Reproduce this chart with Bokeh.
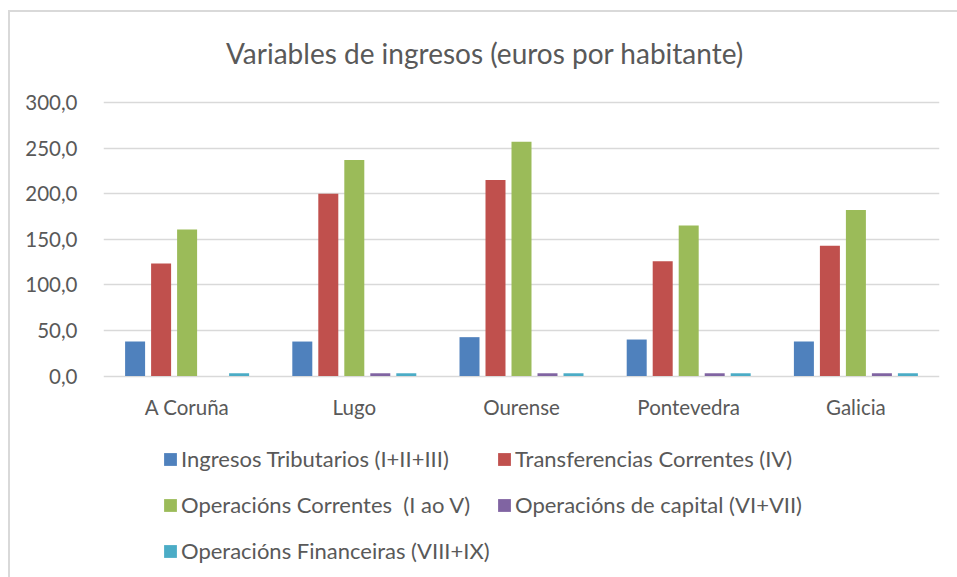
from bokeh.plotting import figure
from bokeh.models import (FactorRange, ColumnDataSource, FixedTicker, CustomJSTickFormatter,
                          Legend, LegendItem)
from bokeh.core.properties import value
from bokeh.transform import dodge
from bokeh.embed import file_html
from bokeh.resources import INLINE

categories = ["A Coruña", "Lugo", "Ourense", "Pontevedra", "Galicia"]
series_names = ["Ingresos Tributarios (I+II+III)", "Transferencias Correntes (IV)",
                "Operacións Correntes  (I ao V)", "Operacións de capital (VI+VII)",
                "Operacións Financeiras (VIII+IX)"]
tributarios = [37.8, 37.8, 42.6, 40.0, 37.8]
transferencias = [123.4, 200.0, 215.0, 126.0, 143.0]
correntes = [160.7, 237.0, 257.0, 165.0, 182.0]
capital = [0.0, 3.0, 3.0, 3.0, 3.0]
financeiras = [3.0, 3.0, 3.0, 3.0, 3.0]
y_ticks = [0, 50, 100, 150, 200, 250, 300]
title_text = "Variables de ingresos  (euros por habitante)"

colors = ["#4F81BD", "#C0504D", "#9BBB59", "#8064A2", "#4BACC6"]
TXT = "#595959"
FONT = "Lato"
FS = "20.5px"
LFS = "22px"

src = ColumnDataSource(dict(cat=categories, s0=tributarios, s1=transferencias,
                            s2=correntes, s3=capital, s4=financeiras))

# frame spans the whole chart area; value axis 0..300 occupies its middle band
k = 300 / 273.5
p = figure(x_range=FactorRange(*categories), y_range=(-201.5 * k, 300 + 90 * k),
           width=957, height=577, output_backend="svg", toolbar_location=None,
           min_border_left=103, min_border_right=18, min_border_top=12, min_border_bottom=0)
p.styles = {
    "background": "linear-gradient(#d9d9d9,#d9d9d9) 8px 10px / 2px 100% no-repeat, "
                  "linear-gradient(#d9d9d9,#d9d9d9) 8px 10px / 100% 2px no-repeat, white"
}
p.outline_line_color = None
p.background_fill_color = None
p.background_fill_alpha = 0
p.border_fill_color = None
p.border_fill_alpha = 0

step = 0.1555
bw = 0.1196
renderers = []
for i, key in enumerate(["s0", "s1", "s2", "s3", "s4"]):
    r = p.vbar(x=dodge("cat", (i - 2) * step, range=p.x_range), top=key, width=bw,
               source=src, fill_color=colors[i], line_color=None)
    renderers.append(r)

# category labels
p.text(x=categories, y=-34.2, text=categories, text_align="center",
       text_baseline="alphabetic", text_font=value(FONT), text_font_size=value(FS),
       text_color=TXT)

# chart title
p.text(x=[categories[2]], y=[300 + (102 - 52.3) * k], text=[title_text], x_offset=-33,
       text_align="center", text_baseline="alphabetic", text_font=value(FONT),
       text_font_size=value("28px"), text_color=TXT)

p.xaxis.visible = False
p.xgrid.grid_line_color = None
p.ygrid.ticker = FixedTicker(ticks=y_ticks)
p.ygrid.grid_line_color = "#d9d9d9"
p.ygrid.grid_line_width = 1.3
p.yaxis.ticker = FixedTicker(ticks=y_ticks)
p.yaxis.formatter = CustomJSTickFormatter(code="return tick.toFixed(1).replace('.', ',');")
p.yaxis.axis_line_color = None
p.yaxis.major_tick_line_color = None
p.yaxis.minor_tick_line_color = None
p.yaxis.major_label_standoff = 20
p.yaxis.major_label_text_font = FONT
p.yaxis.major_label_text_font_size = FS
p.yaxis.major_label_text_color = TXT

common = dict(orientation="vertical", glyph_width=16, glyph_height=16, label_standoff=3,
              label_height=26, spacing=19, padding=0, margin=0,
              border_line_color=None, background_fill_alpha=0,
              label_text_font=FONT, label_text_font_size=LFS, label_text_color=TXT)
leg1 = Legend(items=[LegendItem(label=series_names[i], renderers=[renderers[i]]) for i in (0, 2, 4)],
              location=(59, 13), **common)
leg2 = Legend(items=[LegendItem(label=series_names[i], renderers=[renderers[i]]) for i in (1, 3)],
              location=(393, 59), **common)
p.add_layout(leg1, "center")
p.add_layout(leg2, "center")

open("out.html", "w").write(file_html(p, INLINE))
